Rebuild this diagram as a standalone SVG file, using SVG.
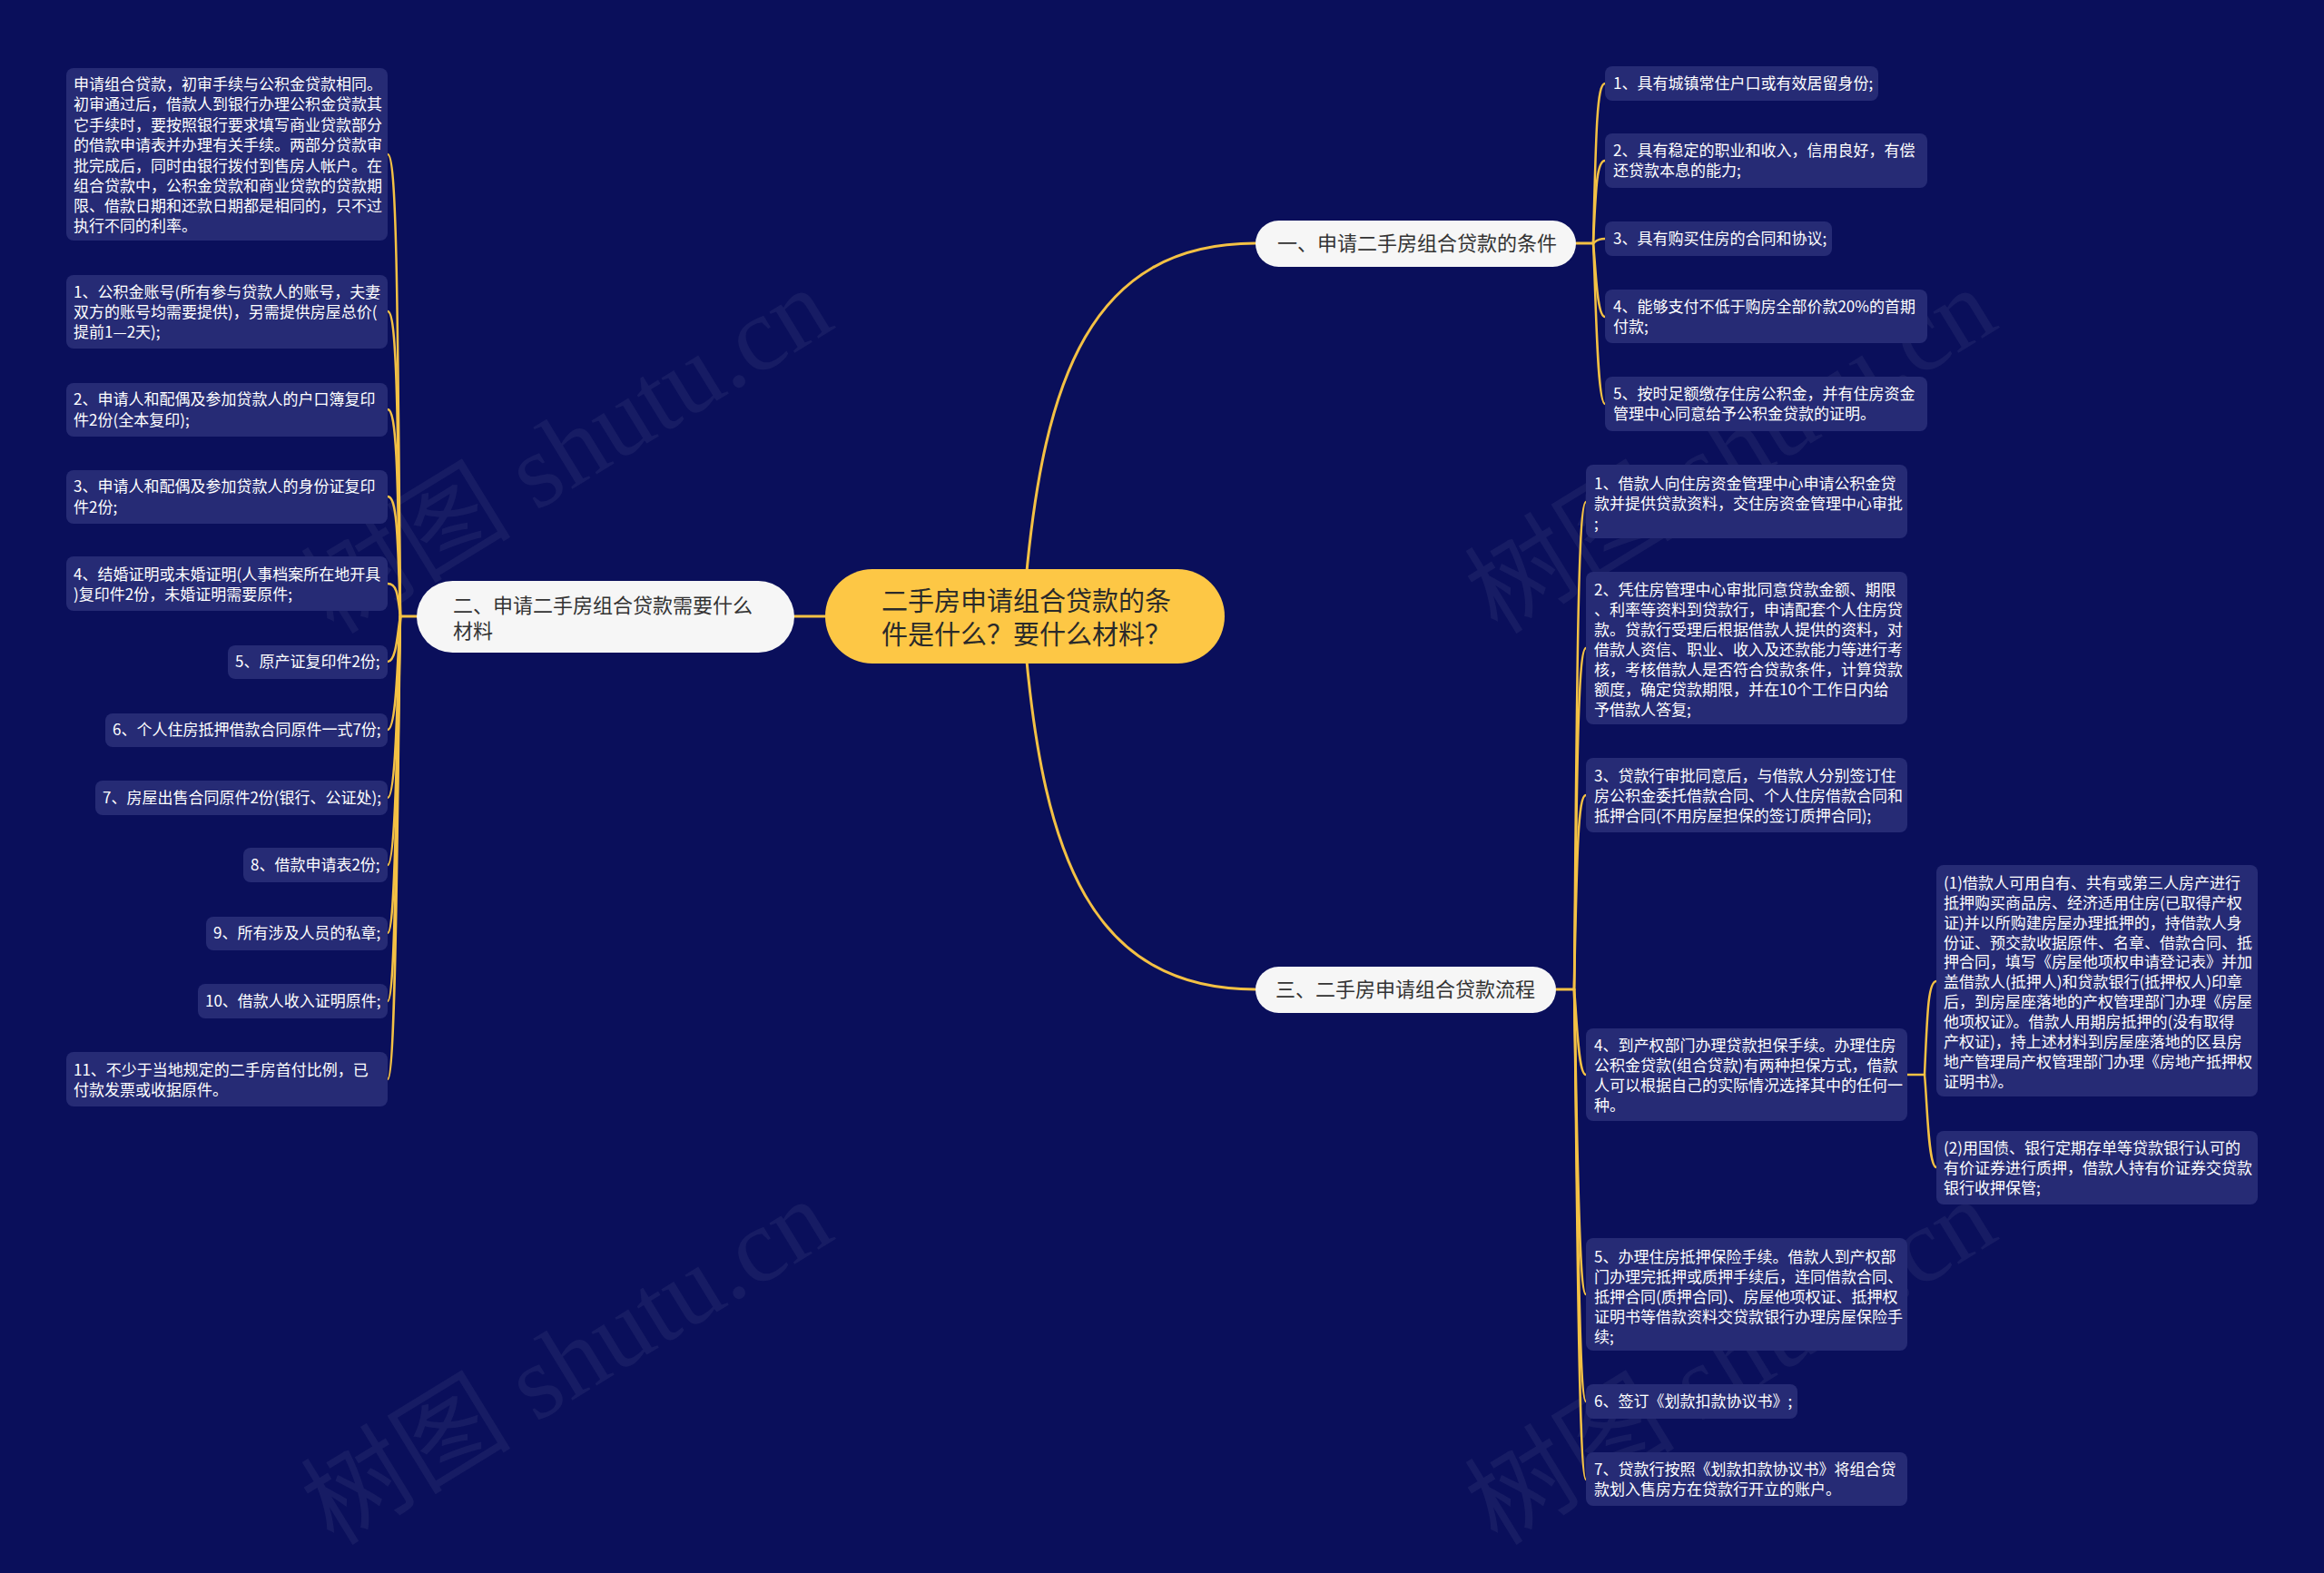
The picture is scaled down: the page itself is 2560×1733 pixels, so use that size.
<svg xmlns="http://www.w3.org/2000/svg" width="2560" height="1733" viewBox="0 0 2560 1733">
<style>
.bg{fill:#0A0F5B}
.wm{fill:#FFFFFF;fill-opacity:0.055;font-family:"Liberation Serif","Noto Sans CJK SC",serif;font-size:116px}
.leaf rect{fill:#262B75}
.leaf text{fill:#FFFFFF;font-family:"Noto Sans CJK SC","Noto Sans",sans-serif;font-size:17px}
.br rect{fill:#F6F6F6}
.br text{fill:#333333;font-family:"Noto Sans CJK SC","Noto Sans",sans-serif;font-size:22px}
.root rect{fill:#FDC745}
.root text{fill:#2A2A2A;font-family:"Noto Sans CJK SC","Noto Sans",sans-serif;font-size:29px}
.c{fill:none;stroke:#F4C144;stroke-width:3;stroke-linecap:round}
.l{fill:none;stroke:#F4C144;stroke-width:2.5;stroke-linecap:round}
</style>
<rect class="bg" x="0" y="0" width="2560" height="1733"/>
<g id="watermarks">
<text class="wm" x="645" y="530" text-anchor="middle" transform="rotate(-31.5 645 530)">树图 shutu.cn</text>
<text class="wm" x="1927" y="530" text-anchor="middle" transform="rotate(-31.5 1927 530)">树图 shutu.cn</text>
<text class="wm" x="645" y="1534" text-anchor="middle" transform="rotate(-31.5 645 1534)">树图 shutu.cn</text>
<text class="wm" x="1927" y="1534" text-anchor="middle" transform="rotate(-31.5 1927 1534)">树图 shutu.cn</text>
</g>
<g id="connectors">
<path class="c" d="M1130 640 C1150 420 1200 268 1383 268"/>
<path class="c" d="M1130 718 C1150 938 1200 1090 1383 1090"/>
<path class="c" d="M875 679 L909 679"/>
<path class="c" d="M459 679 L441 679"/>
<path class="c" d="M1736 268 L1755 268"/>
<path class="c" d="M1714 1090 L1734 1090"/>
<path class="l" d="M2101 1184 L2120 1184"/>
<path class="l" d="M441 679 C438 321 437 170 427 170"/>
<path class="l" d="M441 679 C438 444 437 343 427 343"/>
<path class="l" d="M441 679 C438 520 437 451 427 451"/>
<path class="l" d="M441 679 C438 585 437 547 427 547"/>
<path class="l" d="M441 679 C438 654 437 643 427 643"/>
<path class="l" d="M441 679 C438 694 437 729 427 729"/>
<path class="l" d="M441 679 C438 718 437 804 427 804"/>
<path class="l" d="M441 679 C438 739 437 879 427 879"/>
<path class="l" d="M441 679 C438 762 437 953 427 953"/>
<path class="l" d="M441 679 C438 784 437 1028 427 1028"/>
<path class="l" d="M441 679 C438 807 437 1103 427 1103"/>
<path class="l" d="M441 679 C438 830 437 1189 427 1189"/>
<path class="l" d="M1755 268 C1758 145 1759 92 1768 92"/>
<path class="l" d="M1755 268 C1758 205 1759 177 1768 177"/>
<path class="l" d="M1755 268 C1758 266 1759 263 1768 263"/>
<path class="l" d="M1755 268 C1758 296 1759 349 1768 349"/>
<path class="l" d="M1755 268 C1758 323 1759 445 1768 445"/>
<path class="l" d="M1734 1090 C1737 753 1738 553 1747 553"/>
<path class="l" d="M1734 1090 C1737 853 1738 714 1747 714"/>
<path class="l" d="M1734 1090 C1737 943 1738 876 1747 876"/>
<path class="l" d="M1734 1090 C1737 1118 1738 1184 1747 1184"/>
<path class="l" d="M1734 1090 C1737 1203 1738 1426 1747 1426"/>
<path class="l" d="M1734 1090 C1737 1226 1738 1544 1747 1544"/>
<path class="l" d="M1734 1090 C1737 1252 1738 1630 1747 1630"/>
<path class="l" d="M2120 1184 C2123 1115 2124 1081 2133 1081"/>
<path class="l" d="M2120 1184 C2123 1215 2124 1286 2133 1286"/>
</g>
<g id="root" class="root">
<rect x="909" y="627" width="440" height="104" rx="52"/>
<text x="971" y="673">二手房申请组合贷款的条</text>
<text x="971" y="710">件是什么？要什么材料？</text>
</g>
<g id="branch2" class="br">
<rect x="459" y="640" width="416" height="79" rx="39.5"/>
<text x="499" y="675">二、申请二手房组合贷款需要什么</text>
<text x="499" y="703">材料</text>
</g>
<g id="branch1" class="br">
<rect x="1383" y="243" width="353" height="51" rx="25.5"/>
<text x="1407" y="276">一、申请二手房组合贷款的条件</text>
</g>
<g id="branch3" class="br">
<rect x="1383" y="1065" width="331" height="51" rx="25.5"/>
<text x="1405" y="1098">三、二手房申请组合贷款流程</text>
</g>
<g id="l0" class="leaf">
<rect x="73" y="75" width="354" height="190" rx="8"/>
<text x="81" y="99">申请组合贷款，初审手续与公积金贷款相同。</text>
<text x="81" y="121">初审通过后，借款人到银行办理公积金贷款其</text>
<text x="81" y="144">它手续时，要按照银行要求填写商业贷款部分</text>
<text x="81" y="166">的借款申请表并办理有关手续。两部分贷款审</text>
<text x="81" y="189">批完成后，同时由银行拨付到售房人帐户。在</text>
<text x="81" y="211">组合贷款中，公积金贷款和商业贷款的贷款期</text>
<text x="81" y="233">限、借款日期和还款日期都是相同的，只不过</text>
<text x="81" y="255">执行不同的利率。</text>
</g>
<g id="l1" class="leaf">
<rect x="73" y="303" width="354" height="81" rx="8"/>
<text x="81" y="328">1、公积金账号(所有参与贷款人的账号，夫妻</text>
<text x="81" y="350">双方的账号均需要提供)，另需提供房屋总价(</text>
<text x="81" y="372">提前1—2天);</text>
</g>
<g id="l2" class="leaf">
<rect x="73" y="422" width="354" height="59" rx="8"/>
<text x="81" y="446">2、申请人和配偶及参加贷款人的户口簿复印</text>
<text x="81" y="469">件2份(全本复印);</text>
</g>
<g id="l3" class="leaf">
<rect x="73" y="518" width="354" height="59" rx="8"/>
<text x="81" y="542">3、申请人和配偶及参加贷款人的身份证复印</text>
<text x="81" y="565">件2份;</text>
</g>
<g id="l4" class="leaf">
<rect x="73" y="613" width="354" height="60" rx="8"/>
<text x="81" y="639">4、结婚证明或未婚证明(人事档案所在地开具</text>
<text x="81" y="661">)复印件2份，未婚证明需要原件;</text>
</g>
<g id="l5" class="leaf">
<rect x="251" y="711" width="176" height="37" rx="8"/>
<text x="259" y="735">5、原产证复印件2份;</text>
</g>
<g id="l6" class="leaf">
<rect x="116" y="786" width="311" height="37" rx="8"/>
<text x="124" y="810">6、个人住房抵押借款合同原件一式7份;</text>
</g>
<g id="l7" class="leaf">
<rect x="105" y="860" width="322" height="38" rx="8"/>
<text x="113" y="885">7、房屋出售合同原件2份(银行、公证处);</text>
</g>
<g id="l8" class="leaf">
<rect x="268" y="934" width="159" height="38" rx="8"/>
<text x="276" y="959">8、借款申请表2份;</text>
</g>
<g id="l9" class="leaf">
<rect x="227" y="1010" width="200" height="37" rx="8"/>
<text x="235" y="1034">9、所有涉及人员的私章;</text>
</g>
<g id="l10" class="leaf">
<rect x="218" y="1084" width="209" height="38" rx="8"/>
<text x="226" y="1109">10、借款人收入证明原件;</text>
</g>
<g id="l11" class="leaf">
<rect x="73" y="1159" width="354" height="60" rx="8"/>
<text x="81" y="1185">11、不少于当地规定的二手房首付比例，已</text>
<text x="81" y="1207">付款发票或收据原件。</text>
</g>
<g id="r1" class="leaf">
<rect x="1768" y="73" width="301" height="38" rx="8"/>
<text x="1777" y="98">1、具有城镇常住户口或有效居留身份;</text>
</g>
<g id="r2" class="leaf">
<rect x="1768" y="147" width="355" height="60" rx="8"/>
<text x="1777" y="172">2、具有稳定的职业和收入，信用良好，有偿</text>
<text x="1777" y="194">还贷款本息的能力;</text>
</g>
<g id="r3" class="leaf">
<rect x="1768" y="244" width="250" height="38" rx="8"/>
<text x="1777" y="269">3、具有购买住房的合同和协议;</text>
</g>
<g id="r4" class="leaf">
<rect x="1768" y="319" width="355" height="59" rx="8"/>
<text x="1777" y="344">4、能够支付不低于购房全部价款20%的首期</text>
<text x="1777" y="366">付款;</text>
</g>
<g id="r5" class="leaf">
<rect x="1768" y="415" width="355" height="60" rx="8"/>
<text x="1777" y="440">5、按时足额缴存住房公积金，并有住房资金</text>
<text x="1777" y="462">管理中心同意给予公积金贷款的证明。</text>
</g>
<g id="p1" class="leaf">
<rect x="1747" y="512" width="354" height="81" rx="8"/>
<text x="1756" y="539">1、借款人向住房资金管理中心申请公积金贷</text>
<text x="1756" y="561">款并提供贷款资料，交住房资金管理中心审批</text>
<text x="1756" y="583">;</text>
</g>
<g id="p2" class="leaf">
<rect x="1747" y="630" width="354" height="168" rx="8"/>
<text x="1756" y="656">2、凭住房管理中心审批同意贷款金额、期限</text>
<text x="1756" y="678">、利率等资料到贷款行，申请配套个人住房贷</text>
<text x="1756" y="700">款。贷款行受理后根据借款人提供的资料，对</text>
<text x="1756" y="722">借款人资信、职业、收入及还款能力等进行考</text>
<text x="1756" y="744">核，考核借款人是否符合贷款条件，计算贷款</text>
<text x="1756" y="766">额度，确定贷款期限，并在10个工作日内给</text>
<text x="1756" y="788">予借款人答复;</text>
</g>
<g id="p3" class="leaf">
<rect x="1747" y="835" width="354" height="82" rx="8"/>
<text x="1756" y="861">3、贷款行审批同意后，与借款人分别签订住</text>
<text x="1756" y="883">房公积金委托借款合同、个人住房借款合同和</text>
<text x="1756" y="905">抵押合同(不用房屋担保的签订质押合同);</text>
</g>
<g id="p4" class="leaf">
<rect x="1747" y="1133" width="354" height="102" rx="8"/>
<text x="1756" y="1158">4、到产权部门办理贷款担保手续。办理住房</text>
<text x="1756" y="1180">公积金贷款(组合贷款)有两种担保方式，借款</text>
<text x="1756" y="1202">人可以根据自己的实际情况选择其中的任何一</text>
<text x="1756" y="1224">种。</text>
</g>
<g id="s1" class="leaf">
<rect x="2133" y="953" width="354" height="255" rx="8"/>
<text x="2141" y="979">(1)借款人可用自有、共有或第三人房产进行</text>
<text x="2141" y="1001">抵押购买商品房、经济适用住房(已取得产权</text>
<text x="2141" y="1023">证)并以所购建房屋办理抵押的，持借款人身</text>
<text x="2141" y="1045">份证、预交款收据原件、名章、借款合同、抵</text>
<text x="2141" y="1066">押合同，填写《房屋他项权申请登记表》并加</text>
<text x="2141" y="1088">盖借款人(抵押人)和贷款银行(抵押权人)印章</text>
<text x="2141" y="1110">后，到房屋座落地的产权管理部门办理《房屋</text>
<text x="2141" y="1132">他项权证》。借款人用期房抵押的(没有取得</text>
<text x="2141" y="1154">产权证)，持上述材料到房屋座落地的区县房</text>
<text x="2141" y="1176">地产管理局产权管理部门办理《房地产抵押权</text>
<text x="2141" y="1198">证明书》。</text>
</g>
<g id="s2" class="leaf">
<rect x="2133" y="1246" width="354" height="81" rx="8"/>
<text x="2141" y="1271">(2)用国债、银行定期存单等贷款银行认可的</text>
<text x="2141" y="1293">有价证券进行质押，借款人持有价证券交贷款</text>
<text x="2141" y="1315">银行收押保管;</text>
</g>
<g id="p5" class="leaf">
<rect x="1747" y="1364" width="354" height="124" rx="8"/>
<text x="1756" y="1391">5、办理住房抵押保险手续。借款人到产权部</text>
<text x="1756" y="1413">门办理完抵押或质押手续后，连同借款合同、</text>
<text x="1756" y="1435">抵押合同(质押合同)、房屋他项权证、抵押权</text>
<text x="1756" y="1457">证明书等借款资料交贷款银行办理房屋保险手</text>
<text x="1756" y="1479">续;</text>
</g>
<g id="p6" class="leaf">
<rect x="1747" y="1525" width="233" height="38" rx="8"/>
<text x="1756" y="1550">6、签订《划款扣款协议书》;</text>
</g>
<g id="p7" class="leaf">
<rect x="1747" y="1600" width="354" height="59" rx="8"/>
<text x="1756" y="1625">7、贷款行按照《划款扣款协议书》将组合贷</text>
<text x="1756" y="1647">款划入售房方在贷款行开立的账户。</text>
</g>
</svg>
